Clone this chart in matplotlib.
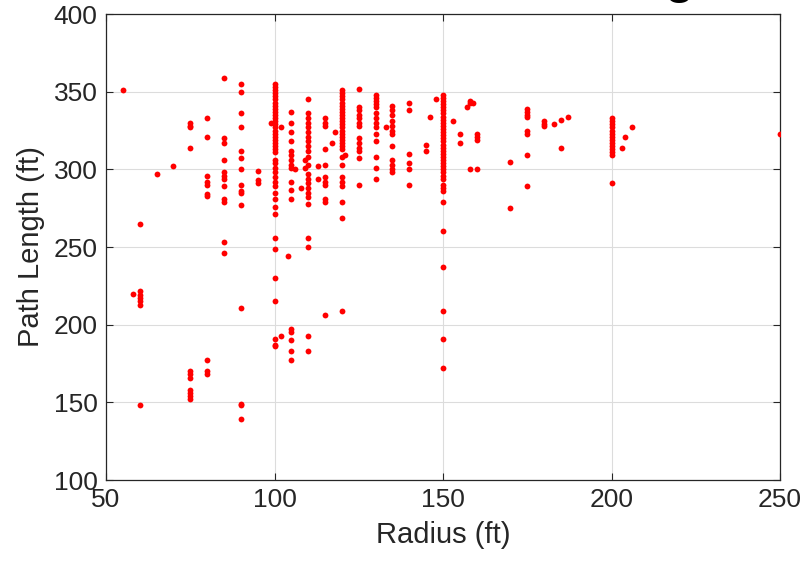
import matplotlib
matplotlib.use("Agg")
import matplotlib.pyplot as plt

# radius values (ft) and the path lengths (ft) measured at each radius
col_radius = [55, 58, 60, 65, 70, 75, 80, 85, 90, 95, 99, 100, 102, 104, 105, 106,
              108, 109, 110, 113, 115, 117, 118, 120, 121, 125, 130, 133, 135, 140,
              145, 146, 148, 150, 153, 155, 157, 158, 159, 160, 170, 175, 180, 183,
              185, 187, 200, 203, 204, 206, 250]

col_lengths = [
    [351],
    [220],
    [265, 222, 219, 217, 215, 213, 148],
    [297],
    [302],
    [330, 328, 327, 314, 170, 168, 166, 158, 156, 154, 152],
    [333, 321, 296, 292, 290, 284, 283, 177, 170, 168],
    [359, 320, 317, 306, 298, 296, 294, 289, 281, 279, 253, 246],
    [355, 350, 336, 327, 312, 307, 300, 290, 286, 285, 277, 211, 149, 148, 139],
    [299, 293, 291],
    [330],
    [355, 353, 351, 349, 347, 345, 343, 341, 339, 337, 335, 333, 331, 329, 327,
     325, 323, 321, 319, 317, 315, 313, 311, 306, 304, 301, 298, 295, 292, 289,
     285, 281, 276, 271, 256, 249, 230, 215, 191, 187, 186],
    [327, 193],
    [244],
    [337, 330, 324, 318, 312, 309, 306, 303, 301, 292, 287, 281, 197, 195, 190,
     183, 177],
    [300],
    [288],
    [306, 301],
    [345, 336, 333, 330, 327, 324, 321, 318, 315, 312, 308, 303, 297, 294, 291,
     288, 285, 282, 278, 256, 250, 193, 183],
    [302, 294],
    [333, 330, 328, 313, 303, 295, 292, 290, 281, 279, 206],
    [317],
    [324],
    [351, 349, 347, 345, 343, 341, 339, 337, 335, 333, 331, 329, 327, 325, 323,
     321, 319, 317, 315, 313, 308, 303, 295, 292, 289, 279, 269, 209],
    [309],
    [352, 340, 338, 335, 333, 330, 328, 320, 317, 314, 312, 307, 290],
    [348, 346, 344, 342, 340, 336, 333, 330, 327, 323, 318, 308, 301, 294],
    [327],
    [341, 338, 335, 331, 328, 325, 323, 315, 306, 303, 300, 298],
    [343, 338, 310, 304, 300, 290],
    [316, 312],
    [334],
    [345],
    [348, 346, 344, 342, 340, 338, 336, 334, 332, 330, 328, 326, 324, 322, 320,
     318, 316, 314, 312, 310, 308, 306, 304, 302, 300, 298, 296, 294, 290, 288,
     286, 279, 260, 237, 209, 191, 172],
    [331],
    [323, 317],
    [340],
    [344, 343, 300],
    [343],
    [323, 321, 319, 300],
    [305, 275],
    [339, 337, 335, 334, 325, 323, 309, 289],
    [331, 329, 328],
    [329],
    [332, 314],
    [334],
    [333, 331, 329, 327, 325, 323, 321, 319, 317, 315, 313, 311, 309, 291],
    [314],
    [321],
    [327],
    [323],
]

radius = [r for r, ys in zip(col_radius, col_lengths) for _ in ys]
path_len = [y for ys in col_lengths for y in ys]

x_ticks = [50, 100, 150, 200, 250]
y_ticks = [100, 150, 200, 250, 300, 350, 400]

plt.rcParams["font.family"] = ["Liberation Sans", "DejaVu Sans"]
ink = "#262626"

fig = plt.figure(figsize=(8.05, 5.66), dpi=100)
ax = fig.add_axes([0.1317, 0.1519, 0.8373, 0.8233])

ax.plot(radius, path_len, linestyle="none", marker="o", ms=4.2,
        mfc="red", mec="none", color="red", zorder=3)

ax.set_xlim(50, 250)
ax.set_ylim(100, 400)
ax.set_xticks(x_ticks)
ax.set_yticks(y_ticks)
ax.grid(True, color="#dcdcdc", lw=0.8, zorder=0)
ax.set_axisbelow(True)

ax.tick_params(direction="in", length=5, width=0.8, colors=ink,
               labelsize=19, top=True, right=True, pad=6)
for sp in ax.spines.values():
    sp.set_color(ink)
    sp.set_linewidth(0.9)

ax.set_xlabel("Radius (ft)", fontsize=21, color=ink, labelpad=6)
ax.set_ylabel("Path Length (ft)", fontsize=21, color=ink, labelpad=6)

# the title sits above the canvas; only the tail of its final "g" shows
fig.text(0.862, 1.0125, "Path Radius Turning", ha="right", va="baseline",
         fontsize=34, fontweight="bold", color="black")

fig.savefig("out.png", dpi=100)
